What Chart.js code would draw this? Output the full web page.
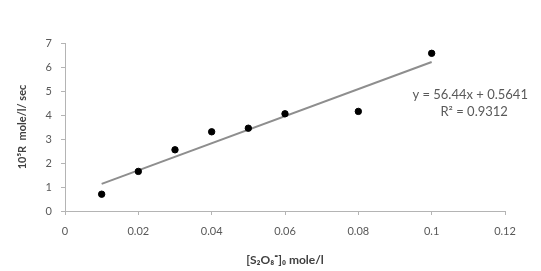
<!DOCTYPE html>
<html>
<head>
<meta charset="utf-8">
<script src="https://cdn.jsdelivr.net/npm/chart.js@4.4.1/dist/chart.umd.min.js"></script>
<style>
  html, body { margin: 0; padding: 0; background: #fff; }
  #wrap { width: 541px; height: 271px; position: relative; }
</style>
</head>
<body>
<div id="wrap"><canvas id="rateChart"></canvas></div>
<script>
// Measured points: [S2O8=]0 (mole/l) vs 10^5 R (mole/l/sec)
var concentrations = [0.01, 0.02, 0.03, 0.04, 0.05, 0.06, 0.08, 0.1];
var rates = [0.7, 1.65, 2.55, 3.3, 3.45, 4.05, 4.15, 6.57];

// Linear trendline from the chart label
var slope = 56.44;
var intercept = 0.5641;
var rSquared = 0.9312;

var xTicks = [0, 0.02, 0.04, 0.06, 0.08, 0.1, 0.12];
var yTicks = [0, 1, 2, 3, 4, 5, 6, 7];

var fontFamily = "Lato, 'Open Sans', sans-serif";
var axisGray = '#b4b4b4';
var textGray = '#595959';

var points = concentrations.map(function (c, i) {
    return { x: c, y: rates[i] };
});
var xFirst = concentrations[0];
var xLast = concentrations[concentrations.length - 1];
var trendPoints = [
    { x: xFirst, y: slope * xFirst + intercept },
    { x: xLast, y: slope * xLast + intercept }
];

// Draws the trendline equation text next to the line
var equationLabel = {
    id: 'equationLabel',
    afterDraw: function (chart) {
        var ctx = chart.ctx;
        var xs = chart.scales.x;
        var ys = chart.scales.y;
        var cx = xs.getPixelForValue(0.1105);
        var cy = ys.getPixelForValue(4.83);
        ctx.save();
        ctx.font = "13px " + fontFamily;
        ctx.fillStyle = textGray;
        ctx.textAlign = 'center';
        ctx.textBaseline = 'middle';
        ctx.fillText('y = ' + slope + 'x + ' + intercept, cx, cy);
        ctx.fillText('R\u00b2 = ' + rSquared, cx + 4, cy + 17);
        ctx.restore();
    }
};

window.onload = function () {
    var ctx = document.getElementById('rateChart').getContext('2d');
    new Chart(ctx, {
        type: 'scatter',
        data: {
            datasets: [{
                label: 'Rate',
                data: points,
                backgroundColor: '#000',
                borderColor: '#000',
                pointRadius: 3.2,
                pointHoverRadius: 3.2
            }, {
                label: 'Linear fit',
                type: 'line',
                data: trendPoints,
                borderColor: '#8e8e8e',
                borderWidth: 2,
                pointRadius: 0,
                fill: false
            }]
        },
        options: {
            responsive: true,
            maintainAspectRatio: false,
            animation: false,
            layout: { padding: { top: 43, right: 36, left: 0, bottom: 0 } },
            plugins: {
                legend: { display: false },
                tooltip: { enabled: false }
            },
            scales: {
                x: {
                    type: 'linear',
                    min: 0,
                    max: 0.12,
                    afterBuildTicks: function (scale) {
                        scale.ticks = xTicks.map(function (v) { return { value: v }; });
                    },
                    afterFit: function (scale) { scale.height = 60; },
                    grid: { drawOnChartArea: false, drawTicks: true, tickLength: 4, color: axisGray },
                    border: { display: true, color: axisGray },
                    ticks: {
                        padding: 10,
                        color: textGray,
                        font: { family: fontFamily, size: 11 },
                        callback: function (v) { return String(v); }
                    },
                    title: {
                        display: true,
                        text: '[S\u2082O\u2088\u207c]\u2080 mole/l',
                        color: '#404040',
                        font: { family: fontFamily, size: 12, weight: 'bold' },
                        padding: { top: 0, bottom: 4 }
                    }
                },
                y: {
                    type: 'linear',
                    min: 0,
                    max: 7,
                    afterBuildTicks: function (scale) {
                        scale.ticks = yTicks.map(function (v) { return { value: v }; });
                    },
                    afterFit: function (scale) { scale.width = 65; },
                    grid: { drawOnChartArea: false, drawTicks: true, tickLength: 4, color: axisGray },
                    border: { display: true, color: axisGray },
                    ticks: {
                        padding: 9,
                        color: textGray,
                        font: { family: fontFamily, size: 11 }
                    },
                    title: {
                        display: true,
                        text: '10\u2075R  mole/l/ sec',
                        color: '#404040',
                        font: { family: fontFamily, size: 11, weight: 'bold' },
                        padding: { top: 16, bottom: 0 }
                    }
                }
            }
        },
        plugins: [equationLabel]
    });
};
</script>
</body>
</html>
